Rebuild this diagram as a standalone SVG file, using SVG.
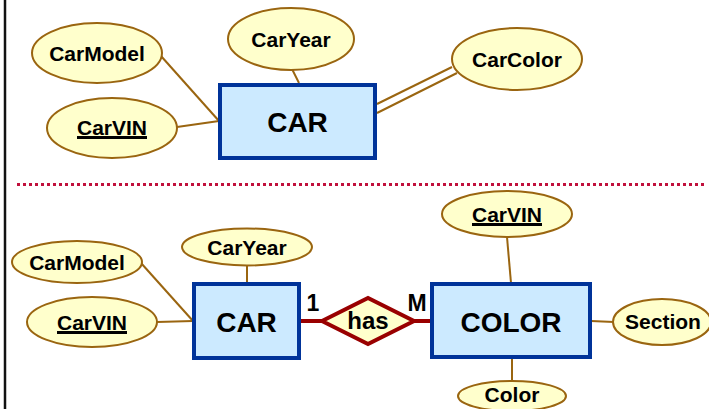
<svg xmlns="http://www.w3.org/2000/svg" width="709" height="409" viewBox="0 0 709 409">
  <style>
    .ent { fill: #cceaff; stroke: #003399; stroke-width: 4; }
    .att { fill: #ffffcc; stroke: #9a6510; stroke-width: 2; }
    .rel { fill: #ffffcc; stroke: #990000; stroke-width: 4; stroke-linejoin: miter; }
    .lnk { stroke: #9a6510; stroke-width: 2; fill: none; }
    .rlnk { stroke: #990000; stroke-width: 4; fill: none; }
    .ul { stroke: #000; stroke-width: 3; }
    text { font-family: "Liberation Sans", Arial, sans-serif; font-weight: bold; fill: #000; text-anchor: middle; }
    .at { font-size: 21px; }
    .et { font-size: 28px; }
    .card { font-size: 23px; }
  </style>

  <!-- frame edge and section divider -->
  <line x1="5" y1="0" x2="5" y2="409" stroke="#111" stroke-width="2.5"/>
  <line x1="17" y1="184.5" x2="704" y2="184.5" stroke="#c0103c" stroke-width="3" stroke-dasharray="3 3"/>

  <!-- connectors -->
  <g id="connectors">
    <!-- upper model -->
    <line class="lnk" x1="161" y1="56" x2="219" y2="121"/>
    <line class="lnk" x1="177" y1="127" x2="219" y2="121"/>
    <line class="lnk" x1="292" y1="69" x2="299" y2="83"/>
    <line class="lnk" x1="377" y1="104" x2="452" y2="67"/>
    <line class="lnk" x1="377" y1="113" x2="457" y2="73"/>
    <!-- lower model -->
    <line class="lnk" x1="141" y1="263" x2="193" y2="321"/>
    <line class="lnk" x1="157" y1="322" x2="193" y2="321"/>
    <line class="lnk" x1="247" y1="265" x2="247" y2="283"/>
    <line class="lnk" x1="507" y1="237" x2="511" y2="283"/>
    <line class="lnk" x1="591" y1="321" x2="614" y2="322"/>
    <line class="lnk" x1="512" y1="359" x2="512" y2="382"/>
    <line class="rlnk" x1="301" y1="321" x2="322" y2="321"/>
    <line class="rlnk" x1="414" y1="321" x2="431" y2="321"/>
  </g>

  <!-- upper model -->
  <g id="car-top">
    <rect class="ent" x="220" y="85" width="155" height="73"/>
    <text class="et" x="297.5" y="132">CAR</text>
  </g>
  <g id="carmodel-top">
    <ellipse class="att" cx="97" cy="53" rx="65" ry="30"/>
    <text class="at" x="97" y="61">CarModel</text>
  </g>
  <g id="caryear-top">
    <ellipse class="att" cx="291" cy="39" rx="63" ry="31"/>
    <text class="at" x="291" y="47">CarYear</text>
  </g>
  <g id="carvin-top">
    <ellipse class="att" cx="112" cy="128" rx="65" ry="30"/>
    <text class="at" x="112" y="135">CarVIN</text>
    <line class="ul" x1="77" y1="137.5" x2="147" y2="137.5"/>
  </g>
  <g id="carcolor-top">
    <ellipse class="att" cx="517" cy="59" rx="65" ry="31"/>
    <text class="at" x="517" y="67">CarColor</text>
  </g>

  <!-- lower model -->
  <g id="car-bottom">
    <rect class="ent" x="194" y="284" width="105" height="74"/>
    <text class="et" x="246.5" y="332">CAR</text>
  </g>
  <g id="carmodel-bottom">
    <ellipse class="att" cx="77" cy="262" rx="65" ry="21"/>
    <text class="at" x="77" y="270">CarModel</text>
  </g>
  <g id="caryear-bottom">
    <ellipse class="att" cx="247" cy="247" rx="65" ry="18.5"/>
    <text class="at" x="247" y="255">CarYear</text>
  </g>
  <g id="carvin-bottom">
    <ellipse class="att" cx="92" cy="322" rx="65" ry="25"/>
    <text class="at" x="92" y="330">CarVIN</text>
    <line class="ul" x1="57" y1="332.5" x2="127" y2="332.5"/>
  </g>
  <g id="has">
    <polygon class="rel" points="322,321 368,298 414,321 368,344"/>
    <text x="368" y="329" style="font-size:24px">has</text>
  </g>
  <g id="card-1">
    <text class="card" x="313" y="311">1</text>
  </g>
  <g id="card-m">
    <text class="card" x="417" y="311">M</text>
  </g>
  <g id="color">
    <rect class="ent" x="432" y="284" width="158" height="73"/>
    <text class="et" x="511" y="332">COLOR</text>
  </g>
  <g id="carvin-color">
    <ellipse class="att" cx="507" cy="214" rx="65" ry="23"/>
    <text class="at" x="507" y="222">CarVIN</text>
    <line class="ul" x1="472" y1="224.5" x2="542" y2="224.5"/>
  </g>
  <g id="section">
    <ellipse class="att" cx="662" cy="322" rx="49" ry="23"/>
    <text class="at" x="663" y="329">Section</text>
  </g>
  <g id="color-attr">
    <ellipse class="att" cx="512" cy="396" rx="54" ry="15"/>
    <text class="at" x="512" y="402">Color</text>
  </g>
</svg>
